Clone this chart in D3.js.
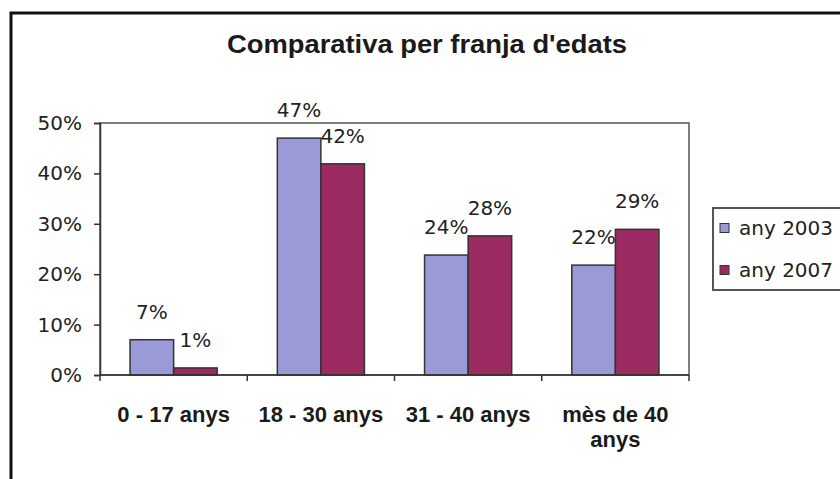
<!DOCTYPE html>
<html>
<head>
  <meta charset="utf-8">
  <title>Comparativa per franja d'edats</title>
  <script src="https://d3js.org/d3.v7.min.js"></script>
  <style>
    body { margin: 0; background: #fff; }
    .tick text { font-family: "DejaVu Sans", sans-serif; font-size: 20px; fill: #222; }
  </style>
</head>
<body>
  <div id="chart"></div>

  <script>
    // data
    var categories = ["0 - 17 anys", "18 - 30 anys", "31 - 40 anys", "mès de 40\nanys"];
    var seriesNames = ["any 2003", "any 2007"];
    var values2003 = [0.07, 0.47, 0.238, 0.218];
    var values2007 = [0.014, 0.419, 0.276, 0.289];
    var yTicks = [0, 0.1, 0.2, 0.3, 0.4, 0.5];
    var colors = ["#9a9ad6", "#9c2b61"];

    var seriesValues = [values2003, values2007];

    var svg = d3.select("#chart")
                .append("svg")
                .attr("width", 840)
                .attr("height", 479)
                .style("display", "block");

    var plot = { left: 100, right: 689, top: 123, bottom: 375 };

    // outer chart frame (runs off the right and bottom edges)
    svg.append("rect")
       .attr("x", 11)
       .attr("y", 13)
       .attr("width", 860)
       .attr("height", 500)
       .attr("fill", "#fff")
       .attr("stroke", "#111")
       .attr("stroke-width", 3);

    svg.append("text")
       .attr("x", 427)
       .attr("y", 53)
       .attr("text-anchor", "middle")
       .style("font-family", "'Liberation Sans', Arial, sans-serif")
       .style("font-weight", "bold")
       .style("font-size", "26px")
       .attr("textLength", 400)
       .attr("lengthAdjust", "spacingAndGlyphs")
       .attr("fill", "#1a1a1a")
       .text("Comparativa per franja d'edats");

    var x0 = d3.scaleBand()
               .domain(categories)
               .range([plot.left, plot.right]);

    var x1 = d3.scaleBand()
               .domain(seriesNames)
               .range([0, x0.bandwidth()])
               .paddingOuter(0.69);

    var yScale = d3.scaleLinear()
                   .domain([0, 0.5])
                   .range([plot.bottom, plot.top]);

    // plot area border
    svg.append("rect")
       .attr("x", plot.left)
       .attr("y", plot.top)
       .attr("width", plot.right - plot.left)
       .attr("height", plot.bottom - plot.top)
       .attr("fill", "none")
       .attr("stroke", "#555")
       .attr("stroke-width", 1.5);

    // bars
    var groups = svg.selectAll("g.cat")
                    .data(categories)
                    .enter()
                    .append("g")
                    .attr("class", "cat")
                    .attr("transform", d => `translate(${x0(d)},0)`);

    groups.selectAll("rect")
          .data((d, i) => seriesNames.map((s, j) => ({ s: s, j: j, v: seriesValues[j][i] })))
          .enter()
          .append("rect")
          .attr("x", d => x1(d.s))
          .attr("y", d => yScale(d.v))
          .attr("width", x1.bandwidth())
          .attr("height", d => yScale(0) - yScale(d.v))
          .attr("fill", d => colors[d.j])
          .attr("stroke", "#333")
          .attr("stroke-width", 1.5);

    // value labels
    groups.selectAll("text.val")
          .data((d, i) => seriesNames.map((s, j) => ({ s: s, j: j, v: seriesValues[j][i] })))
          .enter()
          .append("text")
          .attr("class", "val")
          .attr("x", d => x1(d.s) + x1.bandwidth() / 2)
          .attr("y", d => yScale(d.v) - 28)
          .attr("dy", "0.35em")
          .attr("text-anchor", "middle")
          .style("font-family", "'DejaVu Sans', sans-serif")
          .style("font-size", "20px")
          .attr("fill", "#222")
          .text(d => d3.format(".0%")(d.v));

    // y axis
    var yAxis = svg.append("g")
       .attr("transform", `translate(${plot.left},0)`)
       .call(d3.axisLeft(yScale).tickValues(yTicks).tickFormat(d3.format(".0%")).tickSize(6).tickPadding(12));
    yAxis.select(".domain").attr("stroke", "#333").attr("stroke-width", 1.5);
    yAxis.selectAll(".tick line").attr("stroke", "#333").attr("stroke-width", 1.5);

    // x axis: ticks between categories
    var xAxis = svg.append("g")
       .attr("transform", `translate(0,${plot.bottom})`);
    xAxis.append("line")
         .attr("x1", plot.left).attr("x2", plot.right)
         .attr("stroke", "#333").attr("stroke-width", 1.5);
    xAxis.selectAll("line.tk")
         .data(categories.concat([null]))
         .enter()
         .append("line")
         .attr("class", "tk")
         .attr("x1", (d, i) => plot.left + i * x0.step())
         .attr("x2", (d, i) => plot.left + i * x0.step())
         .attr("y2", 6)
         .attr("stroke", "#333").attr("stroke-width", 1.5);

    xAxis.selectAll("text.cat")
         .data(categories)
         .enter()
         .append("text")
         .attr("class", "cat")
         .attr("x", d => x0(d) + x0.bandwidth() / 2)
         .attr("y", 47)
         .attr("text-anchor", "middle")
         .style("font-family", "'Liberation Sans', Arial, sans-serif")
         .style("font-weight", "bold")
         .style("font-size", "22px")
         .attr("fill", "#1a1a1a")
         .each(function (d) {
           var t = d3.select(this);
           d.split("\n").forEach((line, k) => {
             t.append("tspan")
              .attr("x", x0(d) + x0.bandwidth() / 2)
              .attr("dy", k === 0 ? 0 : 25)
              .text(line);
           });
         });

    // legend
    var legend = svg.append("g");
    legend.append("rect")
          .attr("x", 713)
          .attr("y", 208)
          .attr("width", 160)
          .attr("height", 82)
          .attr("fill", "#fff")
          .attr("stroke", "#555")
          .attr("stroke-width", 2);

    var items = legend.selectAll("g.item")
                      .data(seriesNames)
                      .enter()
                      .append("g")
                      .attr("transform", (d, i) => `translate(720,${228 + i * 42})`);
    items.append("rect")
         .attr("x", 0).attr("y", -4.5)
         .attr("width", 9).attr("height", 9)
         .attr("fill", (d, i) => colors[i])
         .attr("stroke", "#333");
    items.append("text")
         .attr("x", 19)
         .attr("dy", "0.35em")
         .style("font-family", "'DejaVu Sans', sans-serif")
         .style("font-size", "20px")
         .attr("fill", "#222")
         .text(d => d);
  </script>
</body>
</html>
